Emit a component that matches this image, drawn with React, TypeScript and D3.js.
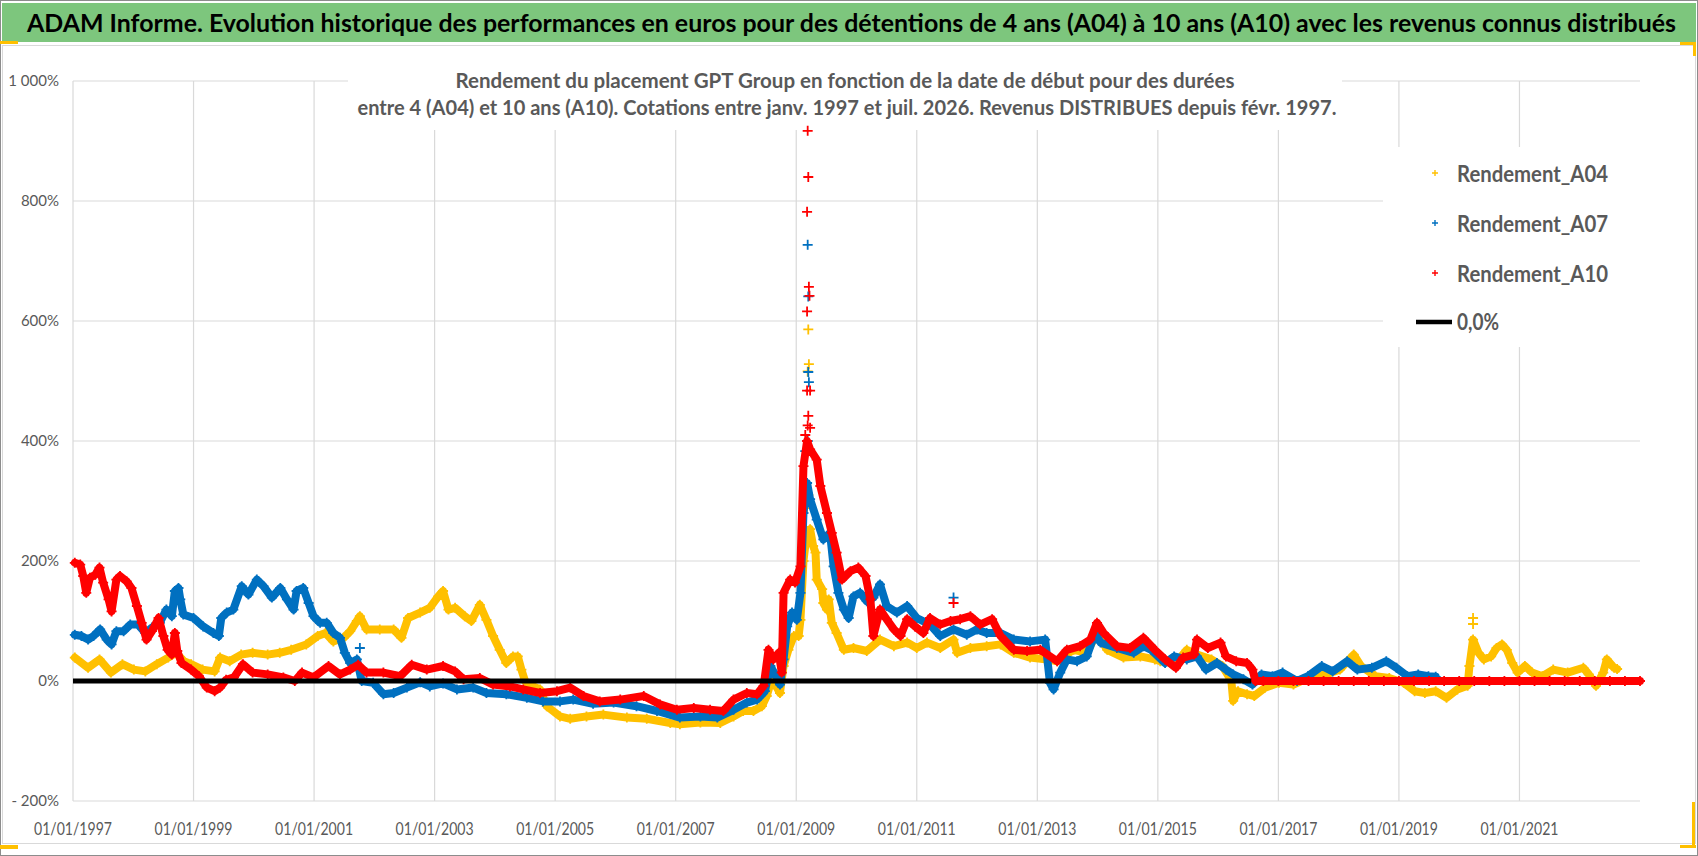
import * as d3 from "d3";

type Pt = [number, number];

// decimal year, return in %
const A04: Pt[] = [
  [1997.03, 39], [1997.25, 22], [1997.44, 36], [1997.63, 14], [1997.82, 28], [1998.01, 19],
  [1998.2, 16], [1998.39, 28], [1998.58, 39], [1998.71, 47], [1998.84, 33], [1998.96, 28],
  [1999.15, 19], [1999.35, 16], [1999.44, 39], [1999.6, 33], [1999.79, 44], [1999.98, 47],
  [2000.23, 44], [2000.43, 47], [2000.62, 52], [2000.87, 61], [2001.06, 75], [2001.19, 80],
  [2001.32, 66], [2001.49, 72], [2001.6, 83], [2001.71, 100], [2001.76, 108], [2001.87, 86],
  [2002.09, 86], [2002.32, 86], [2002.45, 72], [2002.56, 105], [2002.76, 114], [2002.92, 122],
  [2003.06, 141], [2003.14, 150], [2003.23, 119], [2003.34, 122], [2003.5, 108], [2003.61, 100],
  [2003.75, 127], [2003.86, 102], [2003.97, 75], [2004.08, 52], [2004.19, 30], [2004.3, 41],
  [2004.38, 41], [2004.44, 19], [2004.5, 0], [2004.62, -8], [2004.75, -14], [2004.86, -42],
  [2005.08, -59], [2005.25, -63], [2005.52, -59], [2005.8, -56], [2006.19, -61], [2006.52, -63],
  [2006.91, -70], [2007.07, -72], [2007.41, -69], [2007.74, -70], [2007.96, -59], [2008.12, -50],
  [2008.29, -50], [2008.43, -42], [2008.51, -25], [2008.59, 2], [2008.68, -11], [2008.73, -20],
  [2008.79, 25], [2008.87, 52], [2008.96, 75], [2009.04, 75], [2009.07, 102], [2009.12, 200],
  [2009.18, 250], [2009.23, 253], [2009.28, 225], [2009.32, 214], [2009.34, 169], [2009.43, 153],
  [2009.45, 130], [2009.51, 119], [2009.54, 136], [2009.59, 97], [2009.67, 80], [2009.79, 52],
  [2009.95, 55], [2010.17, 50], [2010.39, 69], [2010.62, 58], [2010.84, 64], [2011.0, 55],
  [2011.17, 64], [2011.39, 55], [2011.61, 69], [2011.67, 47], [2011.89, 55], [2012.16, 58],
  [2012.39, 61], [2012.61, 47], [2012.88, 39], [2013.16, 36], [2013.33, 33], [2013.6, 52],
  [2013.82, 47], [2013.99, 80], [2014.16, 52], [2014.43, 39], [2014.71, 41], [2014.95, 36],
  [2015.04, 33], [2015.3, 30], [2015.48, 52], [2015.65, 44], [2015.89, 36], [2016.07, 25],
  [2016.22, 0], [2016.25, -33], [2016.33, -17], [2016.48, -22], [2016.6, -25], [2016.78, -11],
  [2017.01, -3], [2017.25, -6], [2017.49, 5], [2017.78, 11], [2018.02, 19], [2018.25, 44],
  [2018.37, 25], [2018.61, 8], [2018.84, 5], [2019.08, -3], [2019.26, -17], [2019.43, -20],
  [2019.61, -17], [2019.79, -28], [2019.97, -14], [2020.14, -8], [2020.17, 25], [2020.23, 69],
  [2020.32, 47], [2020.41, 36], [2020.53, 41], [2020.62, 55], [2020.71, 61], [2020.79, 52],
  [2020.88, 30], [2020.97, 14], [2021.09, 25], [2021.21, 14], [2021.38, 8], [2021.56, 19],
  [2021.8, 14], [2022.06, 22], [2022.15, 11], [2022.27, -8], [2022.39, 14], [2022.45, 36],
  [2022.57, 22], [2022.62, 20],
];
const A04_SCATTER: Pt[] = [
  [2009.2, 586], [2009.21, 528], [2009.19, 516], [2009.2, 310], [2009.18, 288], [2009.17, 237],
  [2020.23, 105], [2020.23, 95],
];

const A07: Pt[] = [
  [1997.03, 77], [1997.14, 75], [1997.25, 69], [1997.34, 75], [1997.45, 86], [1997.56, 69],
  [1997.64, 61], [1997.72, 83], [1997.84, 83], [1997.95, 94], [1998.08, 94], [1998.2, 80],
  [1998.31, 89], [1998.44, 97], [1998.55, 119], [1998.64, 108], [1998.69, 150], [1998.75, 155],
  [1998.78, 136], [1998.83, 111], [1999.0, 105], [1999.16, 91], [1999.33, 80], [1999.42, 75],
  [1999.46, 105], [1999.55, 114], [1999.66, 119], [1999.8, 158], [1999.91, 144], [2000.05, 169],
  [2000.16, 158], [2000.3, 139], [2000.44, 155], [2000.55, 136], [2000.66, 119], [2000.71, 150],
  [2000.82, 155], [2000.91, 130], [2000.99, 108], [2001.1, 97], [2001.21, 97], [2001.32, 80],
  [2001.43, 72], [2001.51, 47], [2001.6, 30], [2001.71, 36], [2001.79, 0], [2001.98, -3],
  [2002.15, -22], [2002.32, -20], [2002.54, -11], [2002.76, -2], [2002.92, -9], [2003.14, -4],
  [2003.37, -14], [2003.64, -11], [2003.86, -20], [2004.19, -22], [2004.53, -28], [2004.8, -34],
  [2005.08, -34], [2005.3, -31], [2005.63, -38], [2005.97, -36], [2006.35, -42], [2006.69, -50],
  [2007.07, -61], [2007.41, -59], [2007.69, -61], [2007.96, -48], [2008.18, -36], [2008.35, -31],
  [2008.48, -17], [2008.57, 25], [2008.65, 11], [2008.73, -6], [2008.79, 36], [2008.85, 91],
  [2008.93, 114], [2009.01, 102], [2009.07, 147], [2009.12, 280], [2009.18, 330], [2009.23, 303],
  [2009.34, 269], [2009.45, 236], [2009.56, 247], [2009.62, 191], [2009.7, 147], [2009.79, 119],
  [2009.87, 105], [2009.95, 141], [2010.06, 147], [2010.17, 133], [2010.28, 139], [2010.39, 161],
  [2010.5, 125], [2010.67, 114], [2010.84, 125], [2011.0, 105], [2011.22, 94], [2011.39, 75],
  [2011.61, 86], [2011.83, 77], [2012.0, 86], [2012.16, 80], [2012.39, 80], [2012.61, 69],
  [2012.88, 66], [2013.13, 69], [2013.21, -3], [2013.27, -14], [2013.38, 14], [2013.49, 36],
  [2013.66, 33], [2013.82, 41], [2013.96, 80], [2014.05, 64], [2014.32, 55], [2014.6, 47],
  [2014.76, 58], [2014.89, 52], [2015.12, 30], [2015.27, 41], [2015.48, 36], [2015.65, 41],
  [2015.8, 19], [2015.98, 30], [2016.13, 19], [2016.25, 11], [2016.42, 3], [2016.57, -6],
  [2016.72, 11], [2016.9, 8], [2017.07, 14], [2017.31, 0], [2017.49, 8], [2017.72, 25],
  [2017.9, 16], [2018.14, 33], [2018.31, 19], [2018.55, 22], [2018.79, 33], [2018.96, 22],
  [2019.14, 8], [2019.32, 11], [2019.49, 8], [2019.61, 7],
];
const A07_SCATTER: Pt[] = [
  [2009.19, 727], [2009.2, 641], [2009.2, 515], [2009.21, 498], [2009.15, 383], [2009.19, 400],
  [2011.61, 139], [2001.76, 55],
];

const A10: Pt[] = [
  [1997.03, 197], [1997.12, 194], [1997.17, 175], [1997.22, 147], [1997.28, 172], [1997.37, 177],
  [1997.44, 189], [1997.5, 164], [1997.59, 136], [1997.64, 116], [1997.72, 169], [1997.78, 175],
  [1997.89, 166], [1997.97, 155], [1998.06, 125], [1998.14, 97], [1998.22, 69], [1998.31, 83],
  [1998.42, 105], [1998.5, 75], [1998.57, 52], [1998.64, 44], [1998.69, 80], [1998.73, 50],
  [1998.8, 30], [1998.96, 19], [1999.09, 8], [1999.22, -11], [1999.35, -17], [1999.44, -11],
  [1999.54, 2], [1999.67, 6], [1999.82, 28], [1999.98, 14], [2000.23, 11], [2000.49, 6],
  [2000.68, 0], [2000.8, 14], [2000.99, 6], [2001.24, 25], [2001.43, 11], [2001.6, 19],
  [2001.73, 27], [2001.87, 14], [2002.15, 14], [2002.43, 8], [2002.62, 27], [2002.87, 19],
  [2003.14, 25], [2003.34, 16], [2003.48, 3], [2003.75, 5], [2003.97, -6], [2004.25, -9],
  [2004.47, -14], [2004.75, -20], [2005.03, -17], [2005.25, -11], [2005.47, -25], [2005.74, -34],
  [2006.08, -31], [2006.47, -25], [2006.74, -39], [2007.02, -48], [2007.3, -45], [2007.57, -48],
  [2007.79, -50], [2007.96, -31], [2008.18, -20], [2008.35, -22], [2008.46, -8], [2008.54, 52],
  [2008.62, 36], [2008.71, 47], [2008.76, 14], [2008.79, 147], [2008.9, 169], [2008.98, 164],
  [2009.07, 191], [2009.12, 358], [2009.18, 400], [2009.23, 386], [2009.34, 369], [2009.4, 325],
  [2009.51, 280], [2009.59, 247], [2009.67, 214], [2009.76, 169], [2009.9, 183], [2010.03, 189],
  [2010.15, 175], [2010.23, 136], [2010.28, 75], [2010.39, 119], [2010.5, 103], [2010.62, 86],
  [2010.73, 75], [2010.84, 103], [2010.97, 91], [2011.11, 80], [2011.22, 105], [2011.39, 94],
  [2011.56, 100], [2011.72, 103], [2011.89, 108], [2012.05, 94], [2012.25, 103], [2012.39, 75],
  [2012.61, 52], [2012.83, 50], [2013.05, 52], [2013.33, 33], [2013.49, 52], [2013.71, 58],
  [2013.88, 69], [2013.99, 97], [2014.1, 80], [2014.32, 58], [2014.54, 55], [2014.76, 72],
  [2014.95, 52], [2015.12, 36], [2015.3, 22], [2015.42, 39], [2015.6, 44], [2015.65, 69],
  [2015.83, 55], [2016.04, 64], [2016.13, 41], [2016.3, 33], [2016.48, 30], [2016.57, 19],
  [2016.62, 0], [2016.75, 0], [2017.0, 0], [2017.25, 0], [2017.5, 0], [2017.75, 0], [2018.0, 0],
  [2018.25, 0], [2018.5, 0], [2018.75, 0], [2019.0, 0], [2019.25, 0], [2019.5, 0], [2019.75, 0],
  [2020.0, 0], [2020.25, 0], [2020.5, 0], [2020.75, 0], [2021.0, 0], [2021.25, 0], [2021.5, 0],
  [2021.75, 0], [2022.0, 0], [2022.25, 0], [2022.5, 0], [2022.75, 0], [2023.0, 0],
];
const A10_SCATTER: Pt[] = [
  [2009.19, 917], [2009.2, 840], [2009.18, 782], [2009.21, 657], [2009.22, 642], [2009.18, 616],
  [2009.18, 484], [2009.23, 484], [2009.2, 442], [2009.19, 426], [2009.23, 422], [2009.15, 410],
  [2011.61, 130],
];

const ZERO_LINE: Pt[] = [[1997.0, 0], [2016.55, 0]];

const SERIES = [
  { name: "Rendement_A04", color: "#FFC000", band: A04, scatter: A04_SCATTER },
  { name: "Rendement_A07", color: "#0070C0", band: A07, scatter: A07_SCATTER },
  { name: "Rendement_A10", color: "#FF0000", band: A10, scatter: A10_SCATTER },
];

const Y_TICKS = [-200, 0, 200, 400, 600, 800, 1000];
const Y_TICK_LABELS = ["- 200%", "0%", "200%", "400%", "600%", "800%", "1 000%"];
const X_TICKS = [1997, 1999, 2001, 2003, 2005, 2007, 2009, 2011, 2013, 2015, 2017, 2019, 2021];

const TITLE =
  "ADAM Informe. Evolution historique des performances en euros pour des détentions de 4 ans (A04) à 10 ans (A10) avec les revenus connus distribués";
const SUB1 = "Rendement du placement GPT Group en fonction de la date de début pour des durées";
const SUB2 =
  "entre 4 (A04) et 10 ans (A10).  Cotations entre janv. 1997 et juil. 2026. Revenus DISTRIBUES depuis févr. 1997.";

const W = 1698;
const H = 856;
const FONT = "Lato, 'Open Sans', sans-serif";
const PLUS = "M-5,0H5M0,-5V5";

export default function App() {
  const x = d3.scaleLinear().domain([1997, 2023]).range([73, 1640]);
  const y = d3.scaleLinear().domain([-200, 1000]).range([801, 81]);
  const line = d3
    .line<Pt>()
    .x((d) => x(d[0]))
    .y((d) => y(d[1]));

  return (
    <svg
      width={W}
      height={H}
      viewBox={`0 0 ${W} ${H}`}
      style={{ position: "absolute", left: 0, top: 0, background: "#fff" }}
      fontFamily={FONT}
    >
      <rect x={0.5} y={0.5} width={W - 1} height={H - 1} fill="#fff" stroke="#8c8c8c" />
      <rect x={2} y={3} width={W - 4} height={39} fill="#7DC67D" />
      <text x={27} y={32} fontSize={25} fontWeight="bold" fill="#000" textLength={1649} lengthAdjust="spacingAndGlyphs">
        {TITLE}
      </text>
      <rect x={2.5} y={45.5} width={W - 5} height={798} fill="#fff" stroke="#d9d9d9" />

      {/* gridlines */}
      {Y_TICKS.map((t) => (
        <line key={"gy" + t} x1={x(1997)} x2={x(2023)} y1={y(t)} y2={y(t)} stroke="#d9d9d9" strokeWidth={1.2} />
      ))}
      {X_TICKS.map((t) => (
        <line key={"gx" + t} x1={x(t)} x2={x(t)} y1={y(1000)} y2={y(-200)} stroke="#d9d9d9" strokeWidth={1.2} />
      ))}

      {/* title box and legend box hide the grid */}
      <rect x={348} y={60} width={994} height={70} fill="#fff" />
      <text x={845} y={88} textAnchor="middle" fontSize={20} fontWeight="bold" fill="#595959" textLength={779} lengthAdjust="spacingAndGlyphs">
        {SUB1}
      </text>
      <text x={847} y={115} textAnchor="middle" fontSize={20} fontWeight="bold" fill="#595959" textLength={979} lengthAdjust="spacingAndGlyphs">
        {SUB2}
      </text>
      <rect x={1383} y={147} width={270} height={200} fill="#fff" />

      {/* axis labels */}
      {Y_TICKS.map((t, i) => (
        <text key={"ly" + t} x={59} y={y(t)} dy="0.35em" textAnchor="end" fontSize={15} fill="#595959">
          {Y_TICK_LABELS[i]}
        </text>
      ))}
      {X_TICKS.map((t) => (
        <text key={"lx" + t} x={x(t)} y={835} textAnchor="middle" fontSize={17} fill="#595959" textLength={78} lengthAdjust="spacingAndGlyphs">
          {`01/01/${t}`}
        </text>
      ))}

      {/* series */}
      {SERIES.map((s) => (
        <g key={s.name}>
          <path d={line(s.band) ?? ""} fill="none" stroke={s.color} strokeWidth={8} strokeLinejoin="round" strokeLinecap="round" />
          {s.band.concat(s.scatter).map((d, i) => (
            <path key={i} d={PLUS} transform={`translate(${x(d[0])},${y(d[1])})`} stroke={s.color} strokeWidth={1.8} fill="none" />
          ))}
        </g>
      ))}
      <path d={line(ZERO_LINE) ?? ""} stroke="#000" strokeWidth={5} fill="none" />

      {/* legend */}
      {SERIES.map((s, i) => (
        <g key={"lg" + s.name}>
          <path d="M-3,0H3M0,-3V3" transform={`translate(1435,${173 + i * 50})`} stroke={s.color} strokeWidth={1.4} />
          <text x={1457} y={181.5 + i * 50} fontSize={23} fontWeight="bold" fill="#595959" textLength={151} lengthAdjust="spacingAndGlyphs">
            {s.name}
          </text>
        </g>
      ))}
      <line x1={1416} x2={1452} y1={322} y2={322} stroke="#000" strokeWidth={4.5} />
      <text x={1457} y={330} fontSize={23} fontWeight="bold" fill="#595959" textLength={42} lengthAdjust="spacingAndGlyphs">
        0,0%
      </text>

      {/* yellow selection marks */}
      <rect x={0} y={41} width={18} height={3} fill="#FFC000" />
      <rect x={0} y={845} width={18} height={4} fill="#FFC000" />
      <rect x={1680} y={42} width={16} height={3} fill="#FFC000" />
      <rect x={1693} y={42} width={3} height={14} fill="#FFC000" />
      <rect x={1692} y={802} width={3} height={46} fill="#FFC000" />
      <rect x={1680} y={845} width={16} height={3} fill="#FFC000" />
    </svg>
  );
}
